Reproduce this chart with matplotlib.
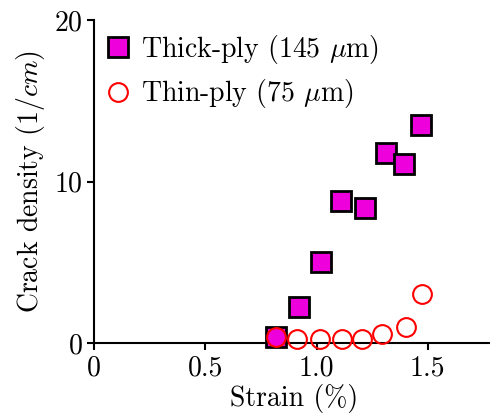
import matplotlib
matplotlib.use("Agg")
import matplotlib.pyplot as plt

plt.rcParams['font.family'] = 'serif'
plt.rcParams['font.serif'] = ['cmr10']
plt.rcParams['mathtext.fontset'] = 'cm'
plt.rcParams['axes.formatter.use_mathtext'] = True

# strain (%) and crack density (1/cm)
thick_strain = [0.817, 0.920, 1.022, 1.112, 1.218, 1.314, 1.392, 1.470]
thick_density = [0.41, 2.26, 5.05, 8.82, 8.37, 11.75, 11.09, 13.48]
thin_strain = [0.817, 0.914, 1.014, 1.116, 1.206, 1.296, 1.404, 1.476]
thin_density = [0.37, 0.28, 0.28, 0.28, 0.28, 0.58, 1.03, 3.05]

x_ticks = [0, 0.5, 1.0, 1.5]
x_ticklabels = ['0', '0.5', '1.0', '1.5']
y_ticks = [0, 10, 20]

fs = 20

fig = plt.figure(figsize=(4.9, 4.16), dpi=100)
ax = fig.add_axes([94.3/490, 72.7/416, 400/490, 323.3/416])

ax.plot(thick_strain, thick_density, 's', ms=14.5, mfc='#ee00dd', mec='black', mew=2,
        label=r'Thick-ply (145 $\mu$m)', clip_on=False, zorder=3)
ax.plot(thin_strain, thin_density, 'o', ms=13.5, mfc='none', mec='red', mew=1.5,
        label=r'Thin-ply (75 $\mu$m)', clip_on=False, zorder=4)

ax.set_xlim(0, 1.8)
ax.set_ylim(0, 20)
ax.set_xticks(x_ticks)
ax.set_xticklabels(x_ticklabels)
ax.set_yticks(y_ticks)
ax.spines['top'].set_visible(False)
ax.spines['right'].set_visible(False)
for s in ['left', 'bottom']:
    ax.spines[s].set_linewidth(1.5)
ax.tick_params(direction='out', length=5, width=1.5, labelsize=fs)

ax.set_xlabel('Strain (%)', fontsize=fs, labelpad=2)
ax.set_ylabel(r'Crack density (1/$cm$)', fontsize=fs, labelpad=5)

ax.legend(loc='upper left', frameon=False, fontsize=fs, handlelength=0.75,
          handletextpad=0.45, labelspacing=0.42, borderaxespad=0,
          bbox_to_anchor=(0.006, 0.995))

fig.savefig('out.png', dpi=100)
